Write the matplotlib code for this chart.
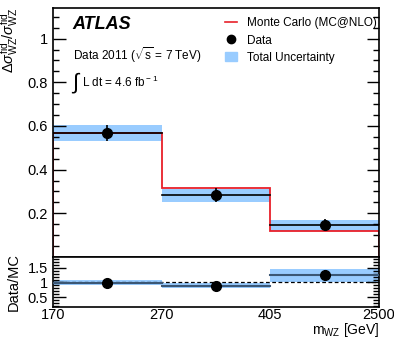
import matplotlib as mpl
mpl.use('Agg')
import matplotlib.pyplot as plt
from matplotlib.ticker import MultipleLocator, FixedLocator
from matplotlib.lines import Line2D
from matplotlib.patches import Patch
import numpy as np

# bin edges (plotted equally spaced)
bin_edges = ['170', '270', '405', '2500']

# normalised differential cross section
data = [0.568, 0.282, 0.148]
data_err = [0.038, 0.032, 0.026]
mc = [0.566, 0.314, 0.118]
band_lo = [0.530, 0.252, 0.118]
band_hi = [0.605, 0.310, 0.171]

# data / MC ratio
ratio = [0.99, 0.88, 1.24]
ratio_err = [0.06, 0.05, 0.17]
ratio_lo = [0.92, 0.80, 1.02]
ratio_hi = [1.07, 0.97, 1.46]

plt.rcParams['font.family'] = ['Liberation Sans', 'DejaVu Sans']
plt.rcParams['mathtext.fontset'] = 'custom'
plt.rcParams['mathtext.rm'] = 'Liberation Sans'
plt.rcParams['mathtext.it'] = 'Liberation Sans:italic'

band_col = '#99ccff'
n = len(data)
x = np.arange(n + 1)
xc = np.arange(n) + 0.5

fig = plt.figure(figsize=(3.94, 3.39), dpi=100)
ax = fig.add_axes([53/394, 1 - 257/339, 326/394, 249/339])
axr = fig.add_axes([53/394, 1 - 306.5/339, 326/394, 49.5/339], sharex=ax)

#top panel
for i in range(n):
    ax.fill_between([x[i], x[i+1]], band_lo[i], band_hi[i], color=band_col, lw=0, zorder=1)
    ax.plot([x[i], x[i+1]], [data[i], data[i]], color='black', lw=1.2, zorder=3)
ax.stairs(mc, x, color='#e8202a', lw=1.3, zorder=2)
ax.errorbar(xc, data, yerr=data_err, fmt='o', color='black', ms=7, elinewidth=1.2, capsize=0, zorder=4)

ax.set_xlim(0, 3)
ax.set_ylim(0, 1.14)
ax.yaxis.set_major_locator(FixedLocator([0.2, 0.4, 0.6, 0.8, 1.0]))
ax.yaxis.set_minor_locator(MultipleLocator(0.05))
ax.set_yticklabels(['0.2', '0.4', '0.6', '0.8', '1'])
ax.tick_params(axis='y', which='both', direction='in', right=True, labelsize=10.5)
ax.tick_params(axis='y', which='major', length=9, width=1)
ax.tick_params(axis='y', which='minor', length=4.5, width=1)
ax.tick_params(axis='x', which='both', bottom=False, top=False, labelbottom=False)
ax.set_ylabel(r'$\Delta\sigma^{\rm fid}_{\rm WZ}/\sigma^{\rm fid}_{\rm WZ}$', fontsize=10.5, loc='top')
ax.yaxis.set_label_coords(-0.1, 1.0)

ax.text(0.06, 0.935, 'ATLAS', transform=ax.transAxes, fontsize=13, fontweight='bold', fontstyle='italic', va='center')
ax.text(0.06, 0.81, r'Data 2011 ($\sqrt{\rm s}$ = 7 TeV)', transform=ax.transAxes, fontsize=8.5, va='center')
ax.text(0.055, 0.695, r'$\int$', transform=ax.transAxes, fontsize=16, va='center')
ax.text(0.09, 0.70, r'L dt = 4.6 fb$^{\rm -1}$', transform=ax.transAxes, fontsize=8.5, va='center')

handles = [Line2D([], [], color='#e8202a', lw=1.2),
           Line2D([], [], color='black', marker='o', ms=6, ls='none'),
           Patch(color=band_col)]
labels = ['Monte Carlo (MC@NLO)', 'Data', 'Total Uncertainty']
ax.legend(handles, labels, loc='upper right', bbox_to_anchor=(1.025, 1.005), frameon=False, fontsize=8.5,
          handlelength=1.0, handleheight=0.8, handletextpad=0.8, labelspacing=0.45)

#ratio panel
for i in range(n):
    axr.fill_between([x[i], x[i+1]], ratio_lo[i], ratio_hi[i], color=band_col, lw=0, zorder=1)
    axr.plot([x[i], x[i+1]], [ratio[i], ratio[i]], color='#3b5775', lw=1.5, zorder=3)
axr.axhline(1, color='black', ls='--', lw=0.9, dashes=(3, 2), zorder=2)
axr.errorbar(xc, ratio, yerr=ratio_err, fmt='o', color='black', ms=7, elinewidth=1.2, capsize=0, zorder=4)

axr.set_ylim(0.19, 1.86)
axr.yaxis.set_major_locator(FixedLocator([0.5, 1.0, 1.5]))
axr.yaxis.set_minor_locator(MultipleLocator(0.1))
axr.set_yticklabels(['0.5', '1', '1.5'])
axr.tick_params(axis='y', which='both', direction='in', right=True, labelsize=10.5)
axr.tick_params(axis='y', which='major', length=9, width=1)
axr.tick_params(axis='y', which='minor', length=4.5, width=1)
axr.set_xticks(x)
axr.set_xticklabels(bin_edges)
axr.tick_params(axis='x', which='both', bottom=False, top=False, labelsize=10.5, pad=-2.5)
axr.set_ylabel('Data/MC', fontsize=10.5)
axr.yaxis.set_label_coords(-0.1, 0.5)
fig.text(379/394, 1 - 330/339, r'm$_{\rm WZ}$ [GeV]', fontsize=10, ha='right', va='center')

for a in (ax, axr):
    for s in a.spines.values():
        s.set_linewidth(1.2)

fig.savefig('out.png', dpi=100)
